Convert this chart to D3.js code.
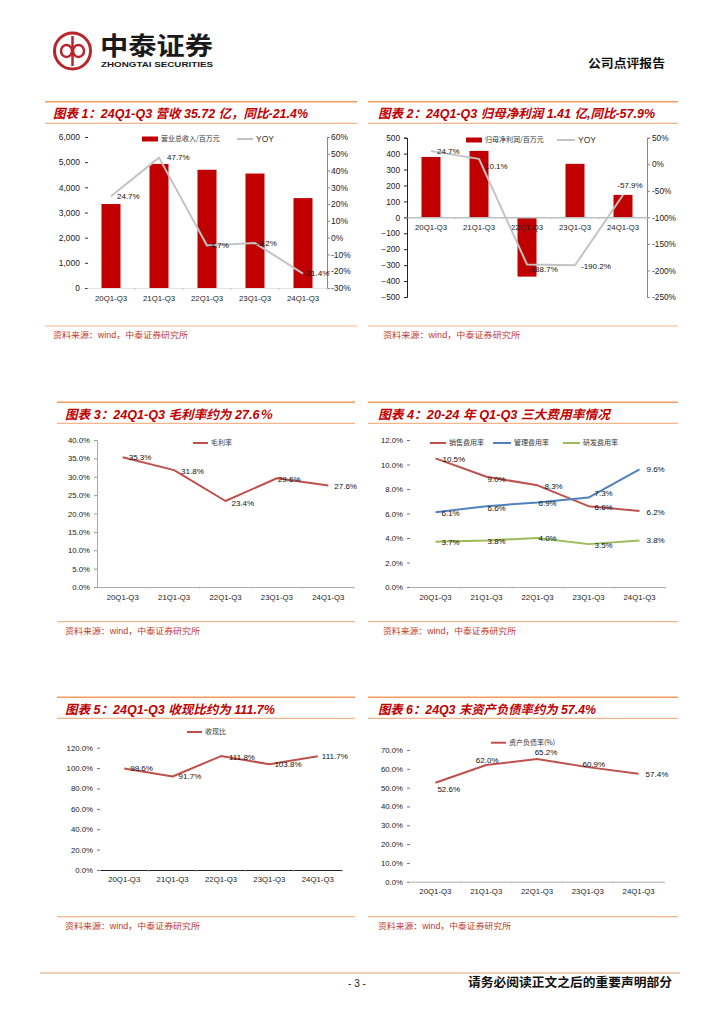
<!DOCTYPE html>
<html>
<head>
<meta charset="utf-8">
<script src="https://cdn.jsdelivr.net/npm/d3@7"></script>
<style>
  body { margin: 0; background: #fff; }
  svg { display: block; }
</style>
</head>
<body>
<div id="page"></div>
<script>
// categories shared by all six charts
const categories = ["20Q1-Q3", "21Q1-Q3", "22Q1-Q3", "23Q1-Q3", "24Q1-Q3"];

// chart 1: revenue (million yuan) and yoy (%)
const revenue = [3338, 4930, 4698, 4548, 3572];
const revenueYoy = [24.7, 47.7, -4.7, -3.2, -21.4];
const revenueTicks = [0, 1000, 2000, 3000, 4000, 5000, 6000];
const revenueYoyTicks = [-30, -20, -10, 0, 10, 20, 30, 40, 50, 60];

// chart 2: net profit attributable (million yuan) and yoy (%)
const netProfit = [379, 417, -372, 336, 141];
const netProfitYoy = [24.7, 10.1, -188.7, -190.2, -57.9];
const netProfitTicks = [-500, -400, -300, -200, -100, 0, 100, 200, 300, 400, 500];
const netProfitYoyTicks = [-250, -200, -150, -100, -50, 0, 50];

// chart 3: gross margin (%)
const grossMargin = [35.3, 31.8, 23.4, 29.6, 27.6];
const grossTicks = [0, 5, 10, 15, 20, 25, 30, 35, 40];

// chart 4: expense ratios (%)
const sellingRate = [10.5, 9.0, 8.3, 6.6, 6.2];
const adminRate = [6.1, 6.6, 6.9, 7.3, 9.6];
const rdRate = [3.7, 3.8, 4.0, 3.5, 3.8];
const expenseTicks = [0, 2, 4, 6, 8, 10, 12];

// chart 5: cash collection ratio (%)
const cashRatio = [99.6, 91.7, 111.8, 103.8, 111.7];
const cashTicks = [0, 20, 40, 60, 80, 100, 120];

// chart 6: debt-to-asset ratio (%)
const debtRatio = [52.6, 62.0, 65.2, 60.9, 57.4];
const debtTicks = [0, 10, 20, 30, 40, 50, 60, 70];

const LATIN = "'Liberation Sans', Arial, sans-serif";
const CJK = "'Noto Sans CJK SC', sans-serif";
const MIXED = "'Liberation Sans', 'Noto Sans CJK SC', sans-serif";
const lineRed = "#C0504D";
const barRed = "#C00000";

const svg = d3.select("#page")
  .append("svg")
  .attr("width", 724)
  .attr("height", 1024);

// ---------- header ----------
const logo = svg.append("g").attr("fill", "none").attr("stroke", "#B8252B");
logo.append("circle").attr("cx", 72.5).attr("cy", 51).attr("r", 18).attr("stroke-width", 3);
logo.append("rect").attr("x", 61).attr("y", 45).attr("width", 11).attr("height", 12).attr("rx", 6).attr("stroke-width", 2.5);
logo.append("rect").attr("x", 73).attr("y", 45).attr("width", 11).attr("height", 12).attr("rx", 6).attr("stroke-width", 2.5);
logo.append("line").attr("x1", 72.5).attr("x2", 72.5).attr("y1", 36).attr("y2", 66).attr("stroke-width", 2.5);

svg.append("text")
  .attr("x", 100).attr("y", 55)
  .attr("font-family", CJK).attr("font-weight", 700).attr("font-size", 24.5)
  .attr("fill", "#1a1a1a")
  .attr("textLength", 113).attr("lengthAdjust", "spacingAndGlyphs")
  .text("中泰证券");
svg.append("text")
  .attr("x", 101).attr("y", 66.5)
  .attr("font-family", LATIN).attr("font-weight", 700).attr("font-size", 6.5)
  .attr("fill", "#1a1a1a")
  .attr("textLength", 112).attr("lengthAdjust", "spacingAndGlyphs")
  .text("ZHONGTAI SECURITIES");
svg.append("text")
  .attr("x", 588).attr("y", 67.5)
  .attr("font-family", CJK).attr("font-weight", 700).attr("font-size", 12)
  .attr("fill", "#111")
  .attr("textLength", 77).attr("lengthAdjust", "spacingAndGlyphs")
  .text("公司点评报告");

// ---------- footer ----------
svg.append("line")
  .attr("x1", 40).attr("x2", 680).attr("y1", 973).attr("y2", 973)
  .attr("stroke", "#EBBFA3").attr("stroke-width", 1.5);
svg.append("text")
  .attr("x", 357).attr("y", 986.5).attr("text-anchor", "middle")
  .attr("font-family", LATIN).attr("font-size", 10).attr("fill", "#222")
  .text("- 3 -");
svg.append("text")
  .attr("x", 468).attr("y", 987)
  .attr("font-family", CJK).attr("font-weight", 700).attr("font-size", 12.5).attr("fill", "#111")
  .attr("textLength", 204).attr("lengthAdjust", "spacingAndGlyphs")
  .text("请务必阅读正文之后的重要声明部分");

// ---------- panel frame: lines, title, source ----------
function panel(x0, x1, yTop, yUnder, yBottom, title, titleX, titleW, titleY, srcX, srcW, srcY) {
  svg.append("line").attr("x1", x0).attr("x2", x1).attr("y1", yTop).attr("y2", yTop)
    .attr("stroke", "#F29B5F").attr("stroke-width", 1.5);
  svg.append("line").attr("x1", x0).attr("x2", x1).attr("y1", yUnder).attr("y2", yUnder)
    .attr("stroke", "#F5B58A").attr("stroke-width", 1.2);
  svg.append("line").attr("x1", x0).attr("x2", x1).attr("y1", yBottom).attr("y2", yBottom)
    .attr("stroke", "#F5B58A").attr("stroke-width", 1.2);
  svg.append("text")
    .attr("x", titleX).attr("y", titleY)
    .attr("font-family", MIXED).attr("font-weight", 700).attr("font-style", "italic")
    .attr("font-size", 12.5).attr("fill", barRed)
    .attr("textLength", titleW).attr("lengthAdjust", "spacingAndGlyphs")
    .text(title);
  svg.append("text")
    .attr("x", srcX).attr("y", srcY)
    .attr("font-family", MIXED).attr("font-size", 8.5).attr("fill", "#C0392B")
    .attr("textLength", srcW).attr("lengthAdjust", "spacingAndGlyphs")
    .text("资料来源：wind，中泰证券研究所");
}

panel(45, 357, 101.7, 123.3, 326, "图表 1：24Q1-Q3 营收 35.72 亿，同比-21.4%", 53, 255, 117.5, 53, 135, 338);
panel(368, 678, 101.7, 123.3, 326, "图表 2：24Q1-Q3 归母净利润 1.41 亿,同比-57.9%", 378, 277, 117.5, 383, 137, 338);
panel(57, 355, 402.3, 423.3, 621.7, "图表 3：24Q1-Q3 毛利率约为 27.6％", 65, 207, 418.5, 65, 135, 634);
panel(368, 678, 402.3, 423.3, 621.7, "图表 4：20-24 年 Q1-Q3 三大费用率情况", 378, 232, 418.5, 383, 133, 634);
panel(57, 355, 697.3, 718.3, 916.7, "图表 5：24Q1-Q3 收现比约为 111.7%", 65, 210, 713.5, 65, 135, 929);
panel(368, 678, 697.3, 718.3, 916.7, "图表 6：24Q3 末资产负债率约为 57.4%", 378, 218, 713.5, 378, 133, 929);

// ---------- helpers ----------
function styleAxis(g, fontSize, tickColor, keepDomain, domainColor) {
  g.selectAll("text").attr("font-family", LATIN).attr("font-size", fontSize).attr("fill", "#222");
  g.selectAll(".tick line").attr("stroke", tickColor);
  if (keepDomain) g.select(".domain").attr("stroke", domainColor);
  else g.select(".domain").remove();
}

function bottomAxis(xBand, yPos, pad, lineColor, lineWidth) {
  const g = svg.append("g")
    .attr("transform", `translate(0, ${yPos})`)
    .call(d3.axisBottom(xBand).tickSize(0).tickPadding(pad));
  styleAxis(g, 7.8, "none", lineColor !== null, lineColor);
  if (lineColor) g.select(".domain").attr("stroke-width", lineWidth);
  // tiny ticks at category boundaries
  const r = xBand.range();
  const bounds = categories.slice(1).map(c => xBand(c)).concat([r[1]]);
  svg.append("g").selectAll("line").data(bounds).enter().append("line")
    .attr("x1", d => d).attr("x2", d => d)
    .attr("y1", yPos).attr("y2", yPos + 2)
    .attr("stroke", "#BBB").attr("stroke-width", 0.8);
  return g;
}

function drawSeries(values, x, y, color, width) {
  const line = d3.line()
    .x((d, i) => x(categories[i]) + x.bandwidth() / 2)
    .y(d => y(d));
  svg.append("path")
    .datum(values)
    .attr("d", line)
    .attr("fill", "none")
    .attr("stroke", color)
    .attr("stroke-width", width)
    .attr("stroke-linejoin", "round");
}

function drawLabels(values, x, y, offsets, anchor) {
  svg.append("g").selectAll("text")
    .data(values)
    .enter()
    .append("text")
    .attr("x", (d, i) => x(categories[i]) + x.bandwidth() / 2 + offsets[i][0])
    .attr("y", (d, i) => y(d) + offsets[i][1])
    .attr("dy", "0.35em")
    .attr("text-anchor", (d, i) => (anchor ? anchor[i] : "start"))
    .attr("font-family", LATIN).attr("font-size", 8).attr("fill", "#111")
    .text(d => d.toFixed(1) + "%");
}

function legendLine(x, yPos, color, label, w) {
  svg.append("line").attr("x1", x).attr("x2", x + (w || 16)).attr("y1", yPos).attr("y2", yPos)
    .attr("stroke", color).attr("stroke-width", 2);
  svg.append("text").attr("x", x + (w || 16) + 3).attr("y", yPos).attr("dy", "0.35em")
    .attr("font-family", CJK).attr("font-size", 7).attr("fill", "#333")
    .text(label);
}

function legendBar(x, yPos, label) {
  svg.append("rect").attr("x", x).attr("y", yPos - 2.5).attr("width", 16).attr("height", 5)
    .attr("fill", barRed);
  svg.append("text").attr("x", x + 19).attr("y", yPos).attr("dy", "0.35em")
    .attr("font-family", CJK).attr("font-size", 7).attr("fill", "#333")
    .text(label);
}

const pct1 = d => d.toFixed(1) + "%";

// ---------- chart 1 ----------
{
  const x = d3.scaleBand().domain(categories).range([87, 327]);
  const yL = d3.scaleLinear().domain([0, 6000]).range([288, 137]);
  const yR = d3.scaleLinear().domain([-30, 60]).range([288, 137]);

  const gl = svg.append("g").attr("transform", "translate(88, 0)")
    .call(d3.axisLeft(yL).tickValues(revenueTicks).tickSize(3).tickPadding(5).tickFormat(d3.format(",")));
  styleAxis(gl, 8.5, "#333", false);

  const gr = svg.append("g").attr("transform", "translate(327, 0)")
    .call(d3.axisRight(yR).tickValues(revenueYoyTicks).tickSize(3).tickPadding(1).tickFormat(d => d + "%"));
  styleAxis(gr, 8.5, "#888", true, "#888");

  bottomAxis(x, 288, 7, "#E4E4E4", 1);

  svg.append("g").selectAll("rect")
    .data(revenue)
    .enter()
    .append("rect")
    .attr("x", (d, i) => x(categories[i]) + (x.bandwidth() - 19) / 2)
    .attr("width", 19)
    .attr("y", d => yL(d))
    .attr("height", d => yL(0) - yL(d))
    .attr("fill", barRed);

  drawSeries(revenueYoy, x, yR, "#C3C3C3", 2);
  drawLabels(revenueYoy, x, yR, [[6, 0], [8, 0], [1, 0], [1, 0], [1, 0]]);

  legendBar(142, 139, "营业总收入/百万元");
  legendLine(237, 139, "#C3C3C3", "", 16);
  svg.append("text").attr("x", 256).attr("y", 139).attr("dy", "0.35em")
    .attr("font-family", LATIN).attr("font-size", 8.5).attr("fill", "#333").text("YOY");
}

// ---------- chart 2 ----------
{
  const x = d3.scaleBand().domain(categories).range([407, 647]);
  const yL = d3.scaleLinear().domain([-500, 500]).range([297, 137.7]);
  const yR = d3.scaleLinear().domain([-250, 50]).range([297, 137.7]);

  const gl = svg.append("g").attr("transform", "translate(407, 0)")
    .call(d3.axisLeft(yL).tickValues(netProfitTicks).tickSize(3).tickPadding(4));
  styleAxis(gl, 8.3, "#222", true, "#222");

  const gr = svg.append("g").attr("transform", "translate(647, 0)")
    .call(d3.axisRight(yR).tickValues(netProfitYoyTicks).tickSize(3).tickPadding(2).tickFormat(d => d + "%"));
  styleAxis(gr, 8.3, "#888", true, "#888");

  svg.append("g").selectAll("rect")
    .data(netProfit)
    .enter()
    .append("rect")
    .attr("x", (d, i) => x(categories[i]) + (x.bandwidth() - 19) / 2)
    .attr("width", 19)
    .attr("y", d => yL(Math.max(0, d)))
    .attr("height", d => Math.abs(yL(d) - yL(0)))
    .attr("fill", barRed);

  bottomAxis(x, yL(0), 7, "#BFBFBF", 1.5);

  drawSeries(netProfitYoy, x, yR, "#C3C3C3", 2);
  drawLabels(netProfitYoy, x, yR, [[6, 0], [6, 7], [1, 5], [6, 1], [7, -10]],
    ["start", "start", "start", "start", "middle"]);

  legendBar(466, 140, "归母净利润/百万元");
  legendLine(557, 140, "#C3C3C3", "", 18);
  svg.append("text").attr("x", 578).attr("y", 140).attr("dy", "0.35em")
    .attr("font-family", LATIN).attr("font-size", 8.5).attr("fill", "#333").text("YOY");
}

// ---------- chart 3 ----------
{
  const x = d3.scaleBand().domain(categories).range([97, 354]);
  const y = d3.scaleLinear().domain([0, 40]).range([587, 440]);

  const gl = svg.append("g").attr("transform", "translate(97, 0)")
    .call(d3.axisLeft(y).tickValues(grossTicks).tickSize(3).tickPadding(4).tickFormat(pct1));
  styleAxis(gl, 7.8, "#999", true, "#AAA");

  bottomAxis(x, 587, 7, "#AAA", 1);

  drawSeries(grossMargin, x, y, lineRed, 2);
  drawLabels(grossMargin, x, y, [[6, 0], [7, 1], [6, 2], [1, 1], [6, 1]]);

  legendLine(193, 443, lineRed, "毛利率", 15);
}

// ---------- chart 4 ----------
{
  const x = d3.scaleBand().domain(categories).range([410, 665]);
  const y = d3.scaleLinear().domain([0, 12]).range([587, 440]);

  const gl = svg.append("g").attr("transform", "translate(410, 0)")
    .call(d3.axisLeft(y).tickValues(expenseTicks).tickSize(3).tickPadding(4).tickFormat(pct1));
  styleAxis(gl, 7.8, "#777", false);

  bottomAxis(x, 587, 7, "#AAA", 1);

  drawSeries(sellingRate, x, y, lineRed, 2);
  drawSeries(adminRate, x, y, "#4F81BD", 2);
  drawSeries(rdRate, x, y, "#9BBB59", 2);

  drawLabels(sellingRate, x, y, [[7, 1], [1, 2], [7, 1], [6, 1], [7, 1]]);
  drawLabels(adminRate, x, y, [[6, 1], [1, 2], [1, 1], [6, -4], [7, 0]]);
  drawLabels(rdRate, x, y, [[6, 1], [1, 1], [1, 0], [6, 1], [7, 0]]);

  legendLine(430, 443, lineRed, "销售费用率", 16);
  legendLine(493, 443, "#4F81BD", "管理费用率", 18);
  legendLine(563, 443, "#9BBB59", "研发费用率", 17);
}

// ---------- chart 5 ----------
{
  const x = d3.scaleBand().domain(categories).range([100, 342]);
  const y = d3.scaleLinear().domain([0, 120]).range([870, 747.7]);

  const gl = svg.append("g").attr("transform", "translate(100, 0)")
    .call(d3.axisLeft(y).tickValues(cashTicks).tickSize(3).tickPadding(4).tickFormat(pct1));
  styleAxis(gl, 7.8, "#777", false);

  bottomAxis(x, 870, 6, "#222", 1.2);

  drawSeries(cashRatio, x, y, lineRed, 2);
  drawLabels(cashRatio, x, y, [[6, 0], [6, 0], [8, 1], [5, 0], [4, 0]]);

  legendLine(187, 732, lineRed, "收现比", 15);
}

// ---------- chart 6 ----------
{
  const x = d3.scaleBand().domain(categories).range([410, 664]);
  const y = d3.scaleLinear().domain([0, 70]).range([881.7, 750]);

  const gl = svg.append("g").attr("transform", "translate(410, 0)")
    .call(d3.axisLeft(y).tickValues(debtTicks).tickSize(3).tickPadding(4).tickFormat(pct1));
  styleAxis(gl, 7.8, "#777", false);

  bottomAxis(x, 881.7, 7, "#AAA", 1);

  drawSeries(debtRatio, x, y, lineRed, 2);
  drawLabels(debtRatio, x, y, [[2, 6], [1, -5], [9, -7], [6, -3], [7, 0]],
    ["start", "middle", "middle", "middle", "start"]);

  legendLine(491, 742.7, lineRed, "资产负债率(%)", 15);
}
</script>
</body>
</html>
